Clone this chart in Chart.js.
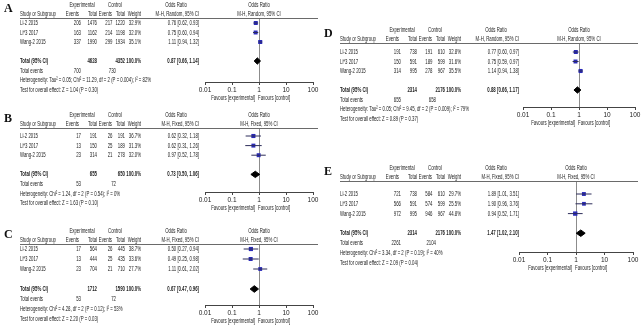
<!DOCTYPE html>
<html>
<head>
<meta charset="utf-8">
<script src="https://cdn.jsdelivr.net/npm/chart.js@4.4.0/dist/chart.umd.min.js"></script>
<style>
  body { margin: 0; background: #fff; }
  #wrap { position: relative; width: 642px; height: 332px; overflow: hidden; }
  #wrap canvas { position: absolute; left: 0; top: 0; }
</style>
</head>
<body>
<div id="wrap">
  <canvas id="chartA" width="642" height="332"></canvas>
  <canvas id="chartB" width="642" height="332"></canvas>
  <canvas id="chartC" width="642" height="332"></canvas>
  <canvas id="chartD" width="642" height="332"></canvas>
  <canvas id="chartE" width="642" height="332"></canvas>
</div>
<script>
const studies = ["Li-2 2015", "Li*3 2017", "Wang-2 2015"];
const tickValues = [0.01, 0.1, 1, 10, 100];

// A
const expEventsA = [206, 163, 337];
const expTotalA = [1476, 1162, 1990];
const ctlEventsA = [217, 214, 299];
const ctlTotalA = [1220, 1198, 1934];
const weightA = [32.9, 32.0, 35.1];
const orA = [0.76, 0.75, 1.11];
const loA = [0.62, 0.60, 0.94];
const hiA = [0.93, 0.94, 1.32];
const totalA = [4628, 4352, 0.87, 0.66, 1.14]; // exp total, ctl total, OR, low, high
const totalEventsA = [700, 730];
const hetA = "Heterogeneity: Tau\u00b2 = 0.05; Chi\u00b2 = 11.29, df = 2 (P = 0.004); I\u00b2 = 82%";
const testA = "Test for overall effect: Z = 1.04 (P = 0.30)";

// B
const expEventsB = [17, 13, 23];
const expTotalB = [191, 150, 314];
const ctlEventsB = [26, 25, 21];
const ctlTotalB = [191, 189, 278];
const weightB = [36.7, 31.3, 32.0];
const orB = [0.62, 0.62, 0.97];
const loB = [0.32, 0.31, 0.52];
const hiB = [1.18, 1.26, 1.78];
const totalB = [655, 650, 0.73, 0.50, 1.06];
const totalEventsB = [53, 72];
const hetB = "Heterogeneity: Chi\u00b2 = 1.24, df = 2 (P = 0.54); I\u00b2 = 0%";
const testB = "Test for overall effect: Z = 1.63 (P = 0.10)";

// C
const expEventsC = [17, 13, 23];
const expTotalC = [564, 444, 704];
const ctlEventsC = [26, 25, 21];
const ctlTotalC = [445, 435, 710];
const weightC = [38.7, 33.6, 27.7];
const orC = [0.50, 0.49, 1.11];
const loC = [0.27, 0.25, 0.61];
const hiC = [0.94, 0.98, 2.02];
const totalC = [1712, 1590, 0.67, 0.47, 0.96];
const totalEventsC = [53, 72];
const hetC = "Heterogeneity: Chi\u00b2 = 4.28, df = 2 (P = 0.12); I\u00b2 = 53%";
const testC = "Test for overall effect: Z = 2.20 (P = 0.03)";

// D
const expEventsD = [191, 150, 314];
const expTotalD = [738, 591, 995];
const ctlEventsD = [191, 189, 278];
const ctlTotalD = [610, 599, 967];
const weightD = [32.8, 31.6, 35.5];
const orD = [0.77, 0.75, 1.14];
const loD = [0.60, 0.59, 0.94];
const hiD = [0.97, 0.97, 1.38];
const totalD = [2314, 2176, 0.88, 0.66, 1.17];
const totalEventsD = [655, 658];
const hetD = "Heterogeneity: Tau\u00b2 = 0.05; Chi\u00b2 = 9.45, df = 2 (P = 0.009); I\u00b2 = 79%";
const testD = "Test for overall effect: Z = 0.89 (P = 0.37)";

// E
const expEventsE = [721, 566, 972];
const expTotalE = [738, 591, 995];
const ctlEventsE = [584, 574, 946];
const ctlTotalE = [610, 599, 967];
const weightE = [29.7, 25.5, 44.8];
const orE = [1.89, 1.90, 0.94];
const loE = [1.01, 0.96, 0.52];
const hiE = [3.51, 3.76, 1.71];
const totalE = [2314, 2176, 1.47, 1.02, 2.10];
const totalEventsE = [2261, 2104];
const hetE = "Heterogeneity: Chi\u00b2 = 3.34, df = 2 (P = 0.19); I\u00b2 = 40%";
const testE = "Test for overall effect: Z = 2.09 (P = 0.04)";

const FONT = '"Liberation Sans", Arial, sans-serif';
const TXT = "#1c1c1c";
const SX = 0.575;   // squeeze text to look like a narrow face
const TOTAL_ROW = 5;

function ci(o, l, h) {
  return o.toFixed(2) + " [" + l.toFixed(2) + ", " + h.toFixed(2) + "]";
}

// table text, header lines and favours labels
const tablePlugin = {
  id: "table",
  afterDraw(chart, args, opts) {
    const c = chart.ctx;
    const d = opts.d, L = opts.lay, ox = L.ox;
    const ys = chart.scales.y, xs = chart.scales.x;
    const x1 = xs.getPixelForValue(1);
    const put = (t, x, y, align, bold) => {
      c.save();
      c.font = (bold ? "bold " : "") + "7.5px " + FONT;
      c.textAlign = align;
      c.translate(x, y);
      c.scale(SX, 1);
      c.fillText(t, 0, 0);
      c.restore();
    };
    c.save();
    c.textBaseline = "middle";

    c.font = "bold 12px 'Liberation Serif', serif";
    c.textAlign = "left";
    c.fillStyle = "#111";
    c.fillText(opts.letter, ox + 4, L.hdr - 5);
    c.fillStyle = TXT;

    const h1 = L.hdr - 9;
    put("Experimental", ox + 82, h1, "center");
    put("Control", ox + 115, h1, "center");
    put("Odds Ratio", ox + 176, h1, "center");
    put("Odds Ratio", x1, h1, "center");
    put("Study or Subgroup", ox + 20, L.hdr, "left");
    put("Events", ox + 79, L.hdr, "right");
    put("Total", ox + 97, L.hdr, "right");
    put("Events", ox + 112, L.hdr, "right");
    put("Total", ox + 125, L.hdr, "right");
    put("Weight", ox + 141, L.hdr, "right");
    put(opts.model, ox + 199, L.hdr, "right");
    put(opts.model, x1, L.hdr, "center");

    c.strokeStyle = "#6a6a6a";
    c.lineWidth = 1;
    c.beginPath();
    c.moveTo(ox + 20, chart.chartArea.top + 0.5);
    c.lineTo(ox + 318, chart.chartArea.top + 0.5);
    c.stroke();

    studies.forEach((s, i) => {
      const y = ys.getPixelForValue(i + 1);
      put(s, ox + 20, y, "left");
      put(String(d.ee[i]), ox + 81, y, "right");
      put(String(d.et[i]), ox + 97, y, "right");
      put(String(d.ce[i]), ox + 112.5, y, "right");
      put(String(d.ct[i]), ox + 125, y, "right");
      put(d.w[i].toFixed(1) + "%", ox + 141, y, "right");
      put(ci(d.or[i], d.lo[i], d.hi[i]), ox + 199, y, "right");
    });

    let y = ys.getPixelForValue(TOTAL_ROW);
    put("Total (95% CI)", ox + 20, y, "left", true);
    put(String(d.tot[0]), ox + 97, y, "right", true);
    put(String(d.tot[1]), ox + 125, y, "right", true);
    put("100.0%", ox + 141, y, "right", true);
    put(ci(d.tot[2], d.tot[3], d.tot[4]), ox + 199, y, "right", true);

    y = ys.getPixelForValue(TOTAL_ROW + 1);
    put("Total events", ox + 20, y, "left");
    put(String(d.tev[0]), ox + 81, y, "right");
    put(String(d.tev[1]), ox + 116, y, "right");
    put(d.het, ox + 20, ys.getPixelForValue(TOTAL_ROW + 2), "left");
    put(d.test, ox + 20, ys.getPixelForValue(TOTAL_ROW + 3), "left");

    const fy = chart.chartArea.bottom + 16;
    put("Favours [experimental]", x1 - 4, fy, "right");
    put("Favours [control]", x1 - 1, fy, "left");
    c.restore();
  }
};

function buildPanel(id, letter, model, d, lay) {
  const yMin = 1 - (lay.row1 - lay.line) / lay.sp;
  const yMax = 1 + (lay.axis - lay.row1) / lay.sp;
  const datasets = [];
  studies.forEach((s, i) => {
    datasets.push({
      data: [{x: d.lo[i], y: i + 1}, {x: d.hi[i], y: i + 1}],
      showLine: true, borderColor: "#2d2d5a", borderWidth: 1, pointRadius: 0
    });
  });
  datasets.push({
    data: d.or.map((v, i) => ({x: v, y: i + 1})),
    pointStyle: "rect",
    pointRadius: d.w.map(w => 2.1 + w * 0.022),
    backgroundColor: "#2a2ab8", borderColor: "#2a2ab8", borderWidth: 0
  });
  const hh = 0.33;
  datasets.push({
    data: [
      {x: d.tot[3], y: TOTAL_ROW}, {x: d.tot[2], y: TOTAL_ROW - hh},
      {x: d.tot[4], y: TOTAL_ROW}, {x: d.tot[2], y: TOTAL_ROW + hh},
      {x: d.tot[3], y: TOTAL_ROW}
    ],
    showLine: true, fill: "shape", tension: 0, pointRadius: 0,
    borderColor: "#000", backgroundColor: "#000", borderWidth: 1
  });

  return new Chart(document.getElementById(id), {
    type: "scatter",
    data: { datasets: datasets },
    options: {
      responsive: false,
      animation: false,
      events: [],
      layout: {
        padding: { left: lay.x0, right: 642 - lay.x1, top: lay.line, bottom: 332 - lay.axis - 14 }
      },
      scales: {
        x: {
          type: "logarithmic", min: 0.01, max: 100,
          afterBuildTicks: s => { s.ticks = tickValues.map(v => ({ value: v })); },
          afterFit: s => { s.height = 14; },
          ticks: {
            font: { family: FONT, size: 6.5 }, color: TXT, padding: 1,
            maxRotation: 0, autoSkip: false,
            callback: v => String(v)
          },
          grid: {
            color: g => (g.tick && g.tick.value === 1) ? "#8c8c8c" : "rgba(0,0,0,0)",
            tickColor: "#444", tickLength: 3, lineWidth: 1
          },
          border: { color: "#444", width: 1 }
        },
        y: { type: "linear", min: yMin, max: yMax, reverse: true, display: false }
      },
      plugins: {
        legend: { display: false },
        tooltip: { enabled: false },
        table: { d: d, lay: lay, letter: letter, model: model }
      }
    },
    plugins: [tablePlugin]
  });
}

const RANDOM = "M-H, Random, 95% CI";
const FIXED = "M-H, Fixed, 95% CI";

buildPanel("chartA", "A", RANDOM,
  { ee: expEventsA, et: expTotalA, ce: ctlEventsA, ct: ctlTotalA, w: weightA, or: orA, lo: loA, hi: hiA, tot: totalA, tev: totalEventsA, het: hetA, test: testA },
  { ox: 0, hdr: 14, line: 18, row1: 23, sp: 9.5, axis: 82, x0: 205, x1: 313 });
buildPanel("chartB", "B", FIXED,
  { ee: expEventsB, et: expTotalB, ce: ctlEventsB, ct: ctlTotalB, w: weightB, or: orB, lo: loB, hi: hiB, tot: totalB, tev: totalEventsB, het: hetB, test: testB },
  { ox: 0, hdr: 124, line: 128, row1: 136, sp: 9.6, axis: 192, x0: 205, x1: 313 });
buildPanel("chartC", "C", FIXED,
  { ee: expEventsC, et: expTotalC, ce: ctlEventsC, ct: ctlTotalC, w: weightC, or: orC, lo: loC, hi: hiC, tot: totalC, tev: totalEventsC, het: hetC, test: testC },
  { ox: 0, hdr: 240, line: 244, row1: 249, sp: 10, axis: 305, x0: 205, x1: 313 });
buildPanel("chartD", "D", RANDOM,
  { ee: expEventsD, et: expTotalD, ce: ctlEventsD, ct: ctlTotalD, w: weightD, or: orD, lo: loD, hi: hiD, tot: totalD, tev: totalEventsD, het: hetD, test: testD },
  { ox: 320, hdr: 39, line: 43, row1: 52, sp: 9.5, axis: 107, x0: 523, x1: 635 });
buildPanel("chartE", "E", FIXED,
  { ee: expEventsE, et: expTotalE, ce: ctlEventsE, ct: ctlTotalE, w: weightE, or: orE, lo: loE, hi: hiE, tot: totalE, tev: totalEventsE, het: hetE, test: testE },
  { ox: 320, hdr: 177, line: 181, row1: 194, sp: 9.8, axis: 252, x0: 519, x1: 633 });
</script>
</body>
</html>
